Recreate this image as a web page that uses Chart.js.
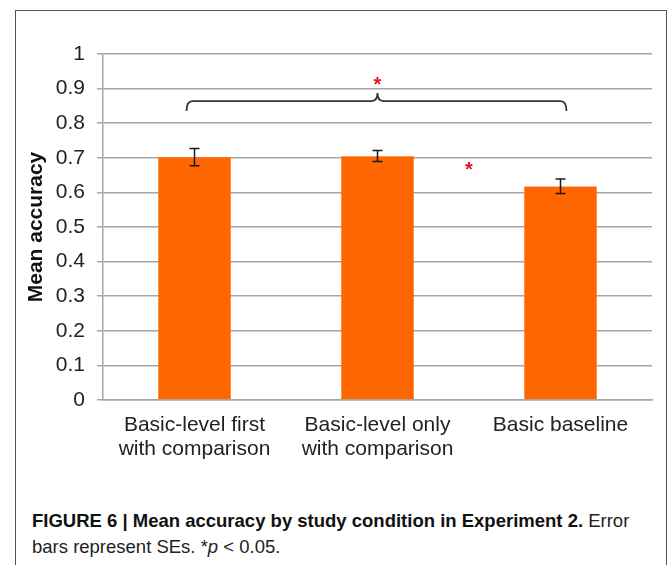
<!DOCTYPE html>
<html>
<head>
<meta charset="utf-8">
<script src="https://cdn.jsdelivr.net/npm/chart.js@4/dist/chart.umd.min.js"></script>
<style>
  html, body { margin: 0; padding: 0; background: #fff; }
  #wrap { position: relative; width: 670px; height: 565px; overflow: hidden; }
  #frame { position: absolute; left: 15px; top: 10px; width: 652px; height: 600px;
           border: 1px solid #555; box-sizing: border-box; }
  #chartBox { position: absolute; left: 0; top: 0; width: 670px; height: 480px; }
  #caption { position: absolute; left: 32px; top: 508px; width: 630px;
             font-family: "Liberation Sans Narrow", "Arial Narrow", "Liberation Sans", Arial, sans-serif;
             font-stretch: condensed; font-size: 18.5px; line-height: 26px; color: #222; }
  #caption b { color: #111; }
</style>
</head>
<body>
<div id="wrap">
  <div id="frame"></div>
  <div id="chartBox"><canvas id="c" width="670" height="480"></canvas></div>
  <div id="caption"><b>FIGURE 6 | Mean accuracy by study condition in Experiment 2.</b> Error<br>bars represent SEs. *<i>p</i> &lt; 0.05.</div>
</div>
<script>
// Study conditions (two-line labels)
const categories = [
  ['Basic-level first', 'with comparison'],
  ['Basic-level only', 'with comparison'],
  ['Basic baseline']
];
// Mean accuracy per condition and its standard error
const meanAccuracy = [0.702, 0.705, 0.618];
const standardError = [0.025, 0.016, 0.021];
// Y axis tick values
const yTicks = [0, 0.1, 0.2, 0.3, 0.4, 0.5, 0.6, 0.7, 0.8, 0.9, 1];
// Significance: bracket between condition 1 and 3, and a star between conditions 2 and 3
const bracketLevel = 0.864;
const bracketStarLevel = 0.922;
const pairStarLevel = 0.676;

const FONT = '"Liberation Sans", Arial, sans-serif';

const errorBarPlugin = {
  id: 'errorBars',
  afterDatasetsDraw(chart) {
    const ctx = chart.ctx;
    const y = chart.scales.y;
    const meta = chart.getDatasetMeta(0);
    ctx.save();
    ctx.strokeStyle = '#1a1a1a';
    ctx.lineWidth = 1.5;
    meta.data.forEach((bar, i) => {
      const v = meanAccuracy[i], e = standardError[i];
      const yTop = y.getPixelForValue(v + e);
      const yBot = y.getPixelForValue(v - e);
      const x = bar.x;
      ctx.beginPath();
      ctx.moveTo(x, yTop); ctx.lineTo(x, yBot);
      ctx.moveTo(x - 5, yTop); ctx.lineTo(x + 5, yTop);
      ctx.moveTo(x - 5, yBot); ctx.lineTo(x + 5, yBot);
      ctx.stroke();
    });
    ctx.restore();
  }
};

const significancePlugin = {
  id: 'significance',
  afterDatasetsDraw(chart) {
    const ctx = chart.ctx;
    const xs = chart.scales.x, ys = chart.scales.y;
    const x0 = xs.getPixelForValue(0) - 8;
    const x2 = xs.getPixelForValue(2) + 6;
    const xm = xs.getPixelForValue(1);
    const yb = ys.getPixelForValue(bracketLevel);
    const r = 6;
    ctx.save();
    ctx.strokeStyle = '#333';
    ctx.lineWidth = 1.8;
    ctx.beginPath();
    ctx.moveTo(x0, yb + 10);
    ctx.quadraticCurveTo(x0, yb, x0 + r, yb);
    ctx.lineTo(xm - r, yb);
    ctx.quadraticCurveTo(xm, yb, xm, yb - 8);
    ctx.quadraticCurveTo(xm, yb, xm + r, yb);
    ctx.lineTo(x2 - r, yb);
    ctx.quadraticCurveTo(x2, yb, x2, yb + 10);
    ctx.stroke();
    ctx.fillStyle = '#e8141c';
    ctx.font = 'bold 20px ' + FONT;
    ctx.textAlign = 'center';
    ctx.textBaseline = 'middle';
    ctx.fillText('*', xm, ys.getPixelForValue(bracketStarLevel) + 4);
    const xp = (xs.getPixelForValue(1) + xs.getPixelForValue(2)) / 2;
    ctx.fillText('*', xp, ys.getPixelForValue(pairStarLevel) + 4);
    ctx.restore();
  }
};

new Chart(document.getElementById('c'), {
  type: 'bar',
  data: {
    labels: categories,
    datasets: [{
      data: meanAccuracy,
      backgroundColor: '#ff6600',
      borderColor: '#f58a3c',
      borderWidth: 0.5,
      barPercentage: 0.4,
      categoryPercentage: 1.0
    }]
  },
  options: {
    responsive: false,
    animation: false,
    devicePixelRatio: 1,
    layout: { padding: { left: 20, right: 18, top: 54, bottom: 0 } },
    plugins: { legend: { display: false }, tooltip: { enabled: false } },
    scales: {
      x: {
        grid: { display: false, drawTicks: false },
        border: { color: '#a6a6a6', width: 1.5 },
        ticks: {
          color: '#222',
          font: { family: FONT, size: 21, lineHeight: 1.15 },
          padding: 13,
          maxRotation: 0,
          autoSkip: false
        },
        afterFit(s) { s.height = 80; }
      },
      y: {
        min: 0, max: 1,
        afterBuildTicks(s) { s.ticks = yTicks.map(v => ({ value: v })); },
        grid: { color: '#a6a6a6', lineWidth: 1.5, tickLength: 6 },
        border: { color: '#a6a6a6', width: 1.5 },
        ticks: {
          color: '#222',
          padding: 12,
          font: { family: FONT, size: 21 },
          callback: v => String(v)
        },
        title: {
          display: true,
          text: 'Mean accuracy',
          color: '#111',
          padding: { top: 4, bottom: 0 },
          font: { family: FONT, size: 21, weight: 'bold' }
        },
        afterFit(s) { s.width = 83; }
      }
    }
  },
  plugins: [errorBarPlugin, significancePlugin]
});
</script>
</body>
</html>
